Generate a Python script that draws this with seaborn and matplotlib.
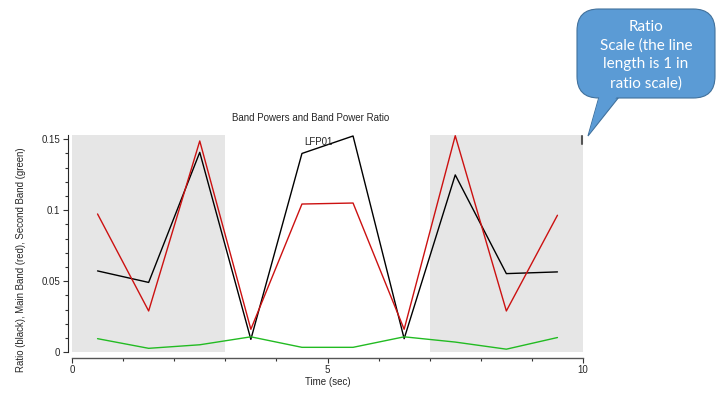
import matplotlib
matplotlib.use("Agg")
import matplotlib.pyplot as plt
from matplotlib.patches import FancyBboxPatch, Polygon
from matplotlib.ticker import MultipleLocator
import seaborn as sns
import pandas as pd

# ---- data ----
time_sec = [0.5, 1.5, 2.5, 3.5, 4.5, 5.5, 6.5, 7.5, 8.5, 9.5]
ratio_black = [0.0573, 0.0492, 0.1408, 0.0091, 0.1400, 0.1523, 0.0096, 0.1249, 0.0554, 0.0566]
main_band_red = [0.0974, 0.0291, 0.1488, 0.0162, 0.1044, 0.1051, 0.0162, 0.1525, 0.0291, 0.0965]
second_band_green = [0.0096, 0.0028, 0.0053, 0.0109, 0.0035, 0.0035, 0.0109, 0.0072, 0.0022, 0.0104]
shaded_spans = [(0, 3), (7, 10)]
ytick_vals = [0, 0.05, 0.1, 0.15]
ytick_labels = ["0", "0.05", "0.1", "0.15"]
xtick_vals = [0, 5, 10]
xtick_labels = ["0", "5", "10"]

df = pd.DataFrame({
    "time": time_sec * 3,
    "value": ratio_black + main_band_red + second_band_green,
    "series": ["ratio"] * 10 + ["main"] * 10 + ["second"] * 10,
})

sns.set_style("ticks")
plt.rcParams["font.family"] = ["Liberation Sans", "DejaVu Sans"]

W, H = 724, 394
fig = plt.figure(figsize=(W / 100, H / 100), dpi=100)
ax = fig.add_axes([72 / W, 1 - 352.3 / H, (583 - 72) / W, (352.3 - 135) / H])

for a, b in shaded_spans:
    ax.axvspan(a, b, color="#E6E6E6", lw=0, zorder=0)

sns.lineplot(data=df, x="time", y="value", hue="series",
             palette={"ratio": "#000000", "main": "#CC1111", "second": "#22BB22"},
             linewidth=1.0, legend=False, ax=ax, sort=False, zorder=3)

ax.set_xlim(0, 10)
ax.set_ylim(0, 0.153)
ax.set_xticks(xtick_vals)
ax.set_xticklabels(xtick_labels)
ax.set_yticks(ytick_vals)
ax.set_yticklabels(ytick_labels)
ax.xaxis.set_minor_locator(MultipleLocator(1))
ax.yaxis.set_minor_locator(MultipleLocator(0.01))
ax.tick_params(axis="both", which="major", labelsize=7, length=3.5, width=0.8,
               color="#333333", pad=2)
ax.tick_params(axis="both", which="minor", length=2.5, width=0.8, color="#333333")

for s in ["top", "right"]:
    ax.spines[s].set_visible(False)
ax.spines["left"].set_position(("outward", 3))
ax.spines["bottom"].set_position(("outward", 4))
ax.spines["left"].set_bounds(0, 0.153)
ax.spines["left"].set_linewidth(0.8)
ax.spines["bottom"].set_linewidth(1.0)
ax.spines["bottom"].set_color("#555555")

ax.set_xlabel("Time (sec)", fontsize=7, labelpad=1)
ax.set_ylabel("")
fig.text(21 / W, 1 - 260 / H, "Ratio (black), Main Band (red), Second Band (green)",
         fontsize=6.9, rotation=90, ha="center", va="center")

fig.text(311 / W, 1 - 118 / H, "Band Powers and Band Power Ratio", fontsize=7,
         ha="center", va="center")
ax.text(4.83, 0.148, "LFP01", fontsize=7, ha="center", va="center", zorder=4)

# ratio scale mark
ax.plot([9.98, 9.98], [0.1465, 0.1525], color="#555555", lw=1.5, clip_on=False, zorder=4)

# callout
def fx(px):
    return px / W

def fy(py):
    return 1 - py / H

fill = "#5B9BD5"
edge = "#41719C"
tail_pts = [(fx(599), fy(97)), (fx(619), fy(97)), (fx(588), fy(136))]
fig.patches.append(Polygon(tail_pts, closed=True, transform=fig.transFigure,
                           facecolor=fill, edgecolor=edge, lw=0.8, zorder=1))
box = FancyBboxPatch((fx(577), fy(98)), fx(715) - fx(577), fy(9) - fy(98),
                     boxstyle="round,pad=0,rounding_size=0.03",
                     transform=fig.transFigure, facecolor=fill, edgecolor=edge,
                     lw=0.8, zorder=2, mutation_aspect=W / H)
fig.patches.append(box)
tail_cover = [(fx(599.8), fy(95)), (fx(618.2), fy(95)), (fx(588.8), fy(134))]
fig.patches.append(Polygon(tail_cover, closed=True, transform=fig.transFigure,
                           facecolor=fill, edgecolor="none", lw=0, zorder=3))
fig.text(fx(646), fy(55), "Ratio\nScale (the line\nlength is 1 in\nratio scale)",
         color="white", fontsize=11, ha="center", va="center", linespacing=1.42,
         family=["Lato", "DejaVu Sans"], zorder=5)

fig.savefig("out.png", dpi=100)
